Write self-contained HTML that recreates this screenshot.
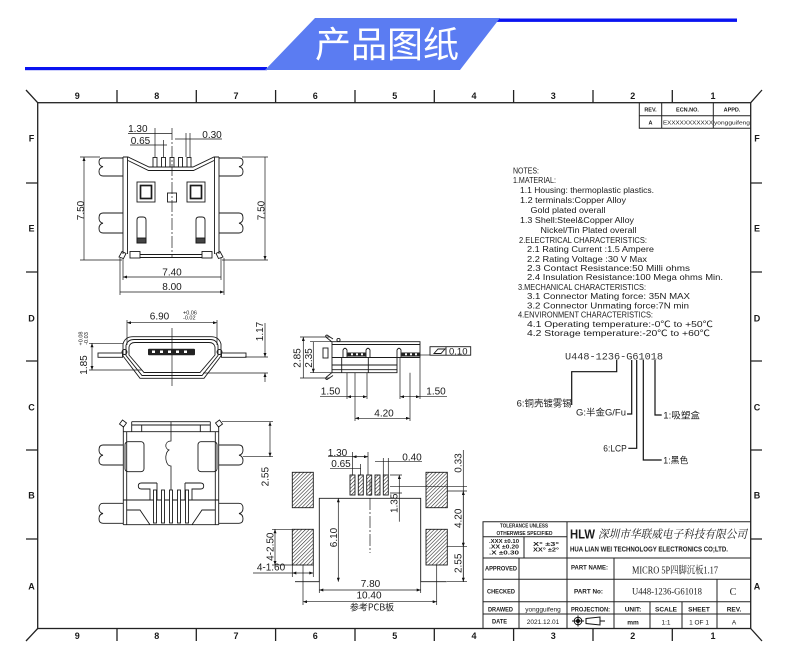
<!DOCTYPE html>
<html><head><meta charset="utf-8"><style>
html,body{margin:0;padding:0;background:#fff;}
svg{display:block;}
text{font-family:"Liberation Sans","Noto Sans CJK SC",sans-serif;fill:#1a1a1a;}
.n{font-family:"Liberation Sans Narrow","Liberation Sans",sans-serif;font-weight:bold;}
.s{font-family:"Liberation Serif","Noto Serif CJK SC",serif;}
</style></head><body>
<svg width="790" height="663" viewBox="0 0 790 663" xmlns="http://www.w3.org/2000/svg">
<defs>
<marker id="a" viewBox="0 0 8 6" refX="8" refY="3" markerWidth="5" markerHeight="3" orient="auto-start-reverse" markerUnits="userSpaceOnUse"><path d="M0,0 L8,3 L0,6z" fill="#111"/></marker>
<pattern id="h" width="2.6" height="2.6" patternUnits="userSpaceOnUse" patternTransform="rotate(45)"><rect width="2.6" height="2.6" fill="#fff"/><line x1="0" y1="0" x2="0" y2="2.6" stroke="#222" stroke-width="1.1"/></pattern>
</defs>
<rect x="0" y="0" width="790" height="663" fill="#fff"/>

<!-- Header -->
<rect x="25" y="67" width="242" height="3.2" fill="#0a14f0"/>
<rect x="490" y="18.5" width="247" height="3.4" fill="#0a14f0"/>
<polygon points="315,18 500,18 460,70 265,70" fill="#5b7cf2"/>
<text x="387" y="57" font-size="36" text-anchor="middle" style="fill:#fff;font-family:'Noto Sans CJK SC',sans-serif">产品图纸</text>

<!-- Frame -->
<g stroke="#222" stroke-width="1.3" fill="none">
<rect x="37.7" y="102.7" width="713" height="525.8"/>
<path d="M26,90L37.7,102.7M762,90L750.7,102.7M26,641L37.7,628.5M762,641L750.7,628.5"/>
<path d="M117,90V102.7M196.3,90V102.7M275.6,90V102.7M355,90V102.7M434.3,90V102.7M513.6,90V102.7M593,90V102.7M672.3,90V102.7"/>
<path d="M117,628.5V641M196.3,628.5V641M275.6,628.5V641M355,628.5V641M434.3,628.5V641M513.6,628.5V641M593,628.5V641M672.3,628.5V641"/>
<path d="M26,183H37.7M26,272H37.7M26,361H37.7M26,450H37.7M26,539H37.7"/>
<path d="M750.7,183H762M750.7,272H762M750.7,361H762M750.7,450H762M750.7,539H762"/>
</g>
<g class="n" font-size="9" text-anchor="middle">
<text x="77.3" y="99">9</text><text x="156.7" y="99">8</text><text x="236" y="99">7</text><text x="315.3" y="99">6</text><text x="394.7" y="99">5</text><text x="474" y="99">4</text><text x="553.3" y="99">3</text><text x="632.7" y="99">2</text><text x="713" y="99">1</text>
<text x="77.3" y="639">9</text><text x="156.7" y="639">8</text><text x="236" y="639">7</text><text x="315.3" y="639">6</text><text x="394.7" y="639">5</text><text x="474" y="639">4</text><text x="553.3" y="639">3</text><text x="632.7" y="639">2</text><text x="713" y="639">1</text>
<text x="31.5" y="141.5">F</text><text x="31.5" y="231.5">E</text><text x="31.5" y="321.5">D</text><text x="31.5" y="410.5">C</text><text x="31.5" y="498.5">B</text><text x="31.5" y="589.5">A</text>
<text x="757" y="141.5">F</text><text x="757" y="231.5">E</text><text x="757" y="321.5">D</text><text x="757" y="410.5">C</text><text x="757" y="498.5">B</text><text x="757" y="589.5">A</text>
</g>

<!-- REV table -->
<g stroke="#222" stroke-width="1" fill="none">
<path d="M639.3,102.7V128.3H750.7M639.3,115.7H750.7M661.7,102.7V128.3M713.3,102.7V128.3"/>
</g>
<g class="n" font-size="5.5" text-anchor="middle">
<text x="650.5" y="111.5">REV.</text><text x="687.5" y="111.5">ECN.NO.</text><text x="732" y="111.5">APPD.</text>
<text x="650.5" y="124.5">A</text>
</g>
<text x="663" y="124.5" font-size="5.5" textLength="50" lengthAdjust="spacingAndGlyphs">EXXXXXXXXXXX</text>
<text x="714" y="124.5" font-size="5.5" textLength="36" lengthAdjust="spacingAndGlyphs">yongguifeng</text>

<!-- ===== TOP VIEW ===== -->
<g fill="none" stroke="#1a1a1a" stroke-width="0.9">
 <g id="tvh">
  <path d="M123,157V254M127.5,157V254"/>
  <path d="M123,157H128L149,167H172"/>
  <path d="M128,160.5L148.5,170.5H172"/>
  <path d="M123,158H103Q99,158 99,162Q99,166 103,166.7Q99,167.5 99,171.5Q99,176 103,176H123"/>
  <path d="M123,213H103Q99,213 99,218Q99,222.5 103,223.2Q99,224 99,228.5Q99,233 103,233H123"/>
  <rect x="137" y="182" width="18" height="20"/>
  <rect x="140.5" y="185.5" width="11" height="13" stroke-width="1.7"/>
  <path d="M137,243V220Q137,217 140,217H143Q146,217 146,220V243Z"/>
  <rect x="137" y="238" width="9" height="5" fill="#444"/>
  <path d="M119,257L122,251.5L126,253.5L123.5,258.5Z"/>
  <rect x="130" y="251.5" width="10" height="6.5"/>
  <path d="M140,254.5H172M140,257.5H172"/>
 </g>
 <use href="#tvh" transform="translate(342,0) scale(-1,1)"/>
 <g fill="#fff">
  <rect x="153" y="157.5" width="4" height="9.5"/><rect x="161.5" y="157.5" width="4" height="9.5"/><rect x="170" y="157.5" width="4" height="9.5"/><rect x="178.5" y="157.5" width="4" height="9.5"/><rect x="187" y="157.5" width="4" height="9.5"/>
 </g>
 <rect x="167.5" y="193" width="9" height="9"/>
 <path d="M172,128V258" stroke-dasharray="12,2,2,2" stroke-width="0.7"/>
 <!-- dims -->
 <g stroke-width="0.7">
  <path d="M155,128V157M163.5,140V157M186,133V157M190,133V157"/>
  <path d="M128,133.5H172M130,145H167M175,139H222"/>
  <path d="M80,157H100M80,260H122M242,157H268M222,260H268"/>
  <path d="M84,157V260M265,157V260" marker-start="url(#a)" marker-end="url(#a)"/>
  <path d="M123,258V280M221,258V280M120,258V295M224,258V295"/>
  <path d="M123,277H221M120,292H224" marker-start="url(#a)" marker-end="url(#a)"/>
 </g>
</g>
<g font-size="10" text-anchor="middle">
 <text x="137.8" y="132">1.30</text>
 <text x="140.5" y="143.8">0.65</text>
 <text x="212" y="137.8">0.30</text>
 <text x="80.5" y="214" transform="rotate(-90 80.5 210.5)">7.50</text>
 <text x="261" y="214" transform="rotate(-90 261 210.5)">7.50</text>
 <text x="172" y="275.3">7.40</text>
 <text x="172" y="290">8.00</text>
</g>

<!-- ===== FRONT VIEW ===== -->
<g fill="none" stroke="#1a1a1a" stroke-width="0.9">
 <g id="fvh">
  <path d="M172,336.7H133Q125,336.7 123,344V356L140,378.3H172"/>
  <path d="M172,339.5H134Q127.5,339.5 126,345.5V355.5L142,375.5H172"/>
  <path d="M172,342.5H135Q130,342.5 129,347V355L144,372.5H172"/>
  <rect x="98" y="353" width="24.5" height="4.3"/>
  <circle cx="124.5" cy="352" r="2.5"/>
 </g>
 <use href="#fvh" transform="translate(344,0) scale(-1,1)"/>
 <path d="M172,328V386" stroke-width="0.7"/>
 <g stroke-width="0.7">
  <path d="M127,320V345M217,320V345"/>
  <path d="M127,322.7H217" marker-start="url(#a)" marker-end="url(#a)"/>
  <path d="M89,343.3H123M89,370H142"/>
  <path d="M92,343.3V370" marker-start="url(#a)" marker-end="url(#a)"/>
  <path d="M245,357H268M203,373H268"/>
  <path d="M265,323V357" marker-end="url(#a)"/>
  <path d="M265,373V382" marker-start="url(#a)"/>
 </g>
</g>
<rect x="148" y="348.7" width="47" height="6.5" rx="1" fill="#222"/>
<g fill="#fff"><rect x="152" y="350.5" width="3" height="2.5"/><rect x="160" y="350.5" width="3" height="2.5"/><rect x="168" y="350.5" width="3" height="2.5"/><rect x="176" y="350.5" width="3" height="2.5"/><rect x="184" y="350.5" width="3" height="2.5"/></g>
<g font-size="10" text-anchor="middle">
 <text x="159.5" y="319.5">6.90</text>
 <text x="83.5" y="368.6" transform="rotate(-90 83.5 365)">1.85</text>
 <text x="259.5" y="335" transform="rotate(-90 259.5 331.5)">1.17</text>
</g>
<g font-size="5.5">
 <text x="183" y="314.5">+0.06</text><text x="183" y="319.5">-0.02</text>
 <text x="81" y="340" text-anchor="middle" transform="rotate(-90 81 338.5)">+0.08</text>
 <text x="86.5" y="340" text-anchor="middle" transform="rotate(-90 86.5 338.5)">-0.03</text>
</g>

<!-- ===== SIDE VIEW ===== -->
<g fill="none" stroke="#1a1a1a" stroke-width="0.9">
 <path d="M332,341.7H420V357.5M332,344.5H420M332,341.7V372.7H397V357.5M332,357.5H420M332,365H397M332,369.7H397"/>
 <path d="M341.7,357.5V372.7M368.3,357.5V372.7"/>
 <path d="M332,342L326.5,337.5Q324.5,335.5 327,335L333,339"/>
 <path d="M332,372.5L326.5,377Q324.5,379 327,379.5L333,375.5"/>
 <rect x="323" y="348" width="5" height="10"/>
 <path d="M343,357.5V350Q345,346.5 347,350V357.5M366,357.5V350Q368,346.5 370,350V357.5M397,357.5V350Q399,346.5 401,350V357.5"/>
 <circle cx="338.5" cy="340" r="1.6"/>
 <g stroke-width="0.7">
  <path d="M300,337H330M300,378H330M310,341.7H332M310,372.7H332"/>
  <path d="M303.3,337V378M313.3,341.7V372.7" marker-start="url(#a)" marker-end="url(#a)"/>
  <path d="M347,372.7V399M367,372.7V399M400,357.5V399M420,357.5V399M355,372.7V421M410,372.7V421"/>
  <path d="M320,396.7H347"/><path d="M347,396.7H367" marker-start="url(#a)" marker-end="url(#a)"/>
  <path d="M420,396.7H447"/><path d="M400,396.7H420" marker-start="url(#a)" marker-end="url(#a)"/>
  <path d="M355,418.3H410" marker-start="url(#a)" marker-end="url(#a)"/>
  <path d="M420,355H430"/>
 </g>
 <rect x="430" y="346.7" width="40.7" height="8.5"/>
 <path d="M446,346.7V355.2"/>
 <path d="M434,353.5L438,349H445L441,353.5Z"/>
</g>
<g fill="#222"><rect x="347.5" y="352.5" width="18" height="4"/><rect x="401.5" y="352.5" width="18.5" height="4"/></g>
<g fill="#fff"><rect x="351" y="353.3" width="2" height="2"/><rect x="356" y="353.3" width="2" height="2"/><rect x="361" y="353.3" width="2" height="2"/><rect x="405" y="353.3" width="2" height="2"/><rect x="410" y="353.3" width="2" height="2"/><rect x="415" y="353.3" width="2" height="2"/></g>
<g font-size="10" text-anchor="middle">
 <text x="297" y="361.6" transform="rotate(-90 297 358)">2.85</text>
 <text x="308.6" y="361.6" transform="rotate(-90 308.6 358)">2.35</text>
 <text x="330.5" y="394.5">1.50</text>
 <text x="436" y="394.5">1.50</text>
 <text x="384" y="416.3">4.20</text>
</g>
<text x="449" y="354.5" font-size="9.5">0.10</text>

<!-- ===== BOTTOM VIEW ===== -->
<g fill="none" stroke="#1a1a1a" stroke-width="0.9">
 <g id="bvh">
  <path d="M123.3,426V524.7M126.7,431.7V524.7"/>
  <path d="M131.7,421.7H171M131.7,425H171M131.7,421.7V431.7M141.7,425V431.7M123.3,431.7H171"/>
  <path d="M119.5,424L122.5,420L126.5,423L123.5,427Z"/>
  <path d="M123,445H103Q99,445 99,450Q99,454.5 103,455.2Q99,456 99,460.5Q99,465 103,465H123"/>
  <path d="M123,503.3H103Q99,503.3 99,508.3Q99,512.8 103,513.5Q99,514.3 99,518.8Q99,523.3 103,523.3H123"/>
  <rect x="125" y="441.7" width="19" height="30" rx="3"/>
  <path d="M157,483H141.5Q138.3,483 138.3,486Q138.3,489 141.5,489H150V500M157,483V500"/>
  <path d="M123.3,500H171M126.7,510H140L150,524.7M123.3,524.7H171"/>
 </g>
 <use href="#bvh" transform="translate(342,0) scale(-1,1)"/>
 <path d="M171,422V441C165,441 164,448 169,450C164,453 165,466 171,466V500" stroke-width="0.8"/>
 <g fill="#fff">
  <rect x="153.5" y="490" width="3" height="33"/><rect x="161.5" y="490" width="3" height="33"/><rect x="169.5" y="490" width="3" height="33"/><rect x="177.5" y="490" width="3" height="33"/><rect x="185.5" y="490" width="3" height="33"/>
 </g>
 <g stroke-width="0.7">
  <path d="M222,421.7H273M243,456.7H273"/>
  <path d="M270,421.7V456.7" marker-start="url(#a)" marker-end="url(#a)"/>
 </g>
</g>
<text x="265" y="480.3" font-size="10" text-anchor="middle" transform="rotate(-90 265 476.7)">2.55</text>

<!-- ===== PCB ===== -->
<g stroke="#1a1a1a" stroke-width="0.9">
 <rect x="292.3" y="472.3" width="21" height="35.4" fill="url(#h)"/>
 <rect x="292.3" y="529.3" width="21" height="35.7" fill="url(#h)"/>
 <rect x="426" y="472.3" width="21.3" height="35.4" fill="url(#h)"/>
 <rect x="426" y="529.3" width="21.3" height="35.7" fill="url(#h)"/>
 <rect x="350" y="475" width="5" height="20" fill="url(#h)"/>
 <rect x="358.3" y="475" width="5" height="20" fill="url(#h)"/>
 <rect x="366.7" y="475" width="5" height="20" fill="url(#h)"/>
 <rect x="375" y="475" width="5" height="20" fill="url(#h)"/>
 <rect x="383.3" y="475" width="5" height="20" fill="url(#h)"/>
</g>
<g fill="none" stroke="#1a1a1a" stroke-width="0.9">
 <path d="M295,581.7H319.3V498.3H420.7V581.7H446.7"/>
 <path d="M370,480V553" stroke-dasharray="12,2,2,2" stroke-width="0.7"/>
 <g stroke-width="0.7">
  <path d="M352.5,452V475M360.5,464V475M368,452V475M383.3,458V475M388.3,458V475"/>
  <path d="M328,456.7H368"/><path d="M352.5,456.7H368" marker-start="url(#a)" marker-end="url(#a)"/>
  <path d="M330,468.3H361"/>
  <path d="M375,461.7H422"/>
  <path d="M390,475H402M390,493H402"/>
  <path d="M399.3,475V521.7" marker-start="url(#a)"/>
  <path d="M338.3,498.3V581.7" marker-start="url(#a)" marker-end="url(#a)"/>
  <path d="M390,486.7H467M447,491H467M447,546.7H467M447,581.7H467"/>
  <path d="M463.3,450V581.7"/>
  <path d="M463.3,491V546.7" marker-start="url(#a)" marker-end="url(#a)"/>
  <path d="M463.3,546.7V581.7" marker-end="url(#a)"/>
  <path d="M272,529.3H292M272,565H292"/>
  <path d="M275,529.3V565" marker-start="url(#a)" marker-end="url(#a)"/>
  <path d="M253,573H292.3"/><path d="M292.3,565V577M313.3,565V577"/>
  <path d="M292.3,573H313.3" marker-start="url(#a)" marker-end="url(#a)"/>
  <path d="M319.3,581.7V593M420.7,581.7V593"/>
  <path d="M319.3,590H420.7" marker-start="url(#a)" marker-end="url(#a)"/>
  <path d="M303,565V605M436.7,565V605"/>
  <path d="M303,601.7H436.7" marker-start="url(#a)" marker-end="url(#a)"/>
 </g>
</g>
<g font-size="10" text-anchor="middle">
 <text x="337.5" y="455.8">1.30</text>
 <text x="341" y="467">0.65</text>
 <text x="412" y="460.3">0.40</text>
 <text x="394" y="506.9" transform="rotate(-90 394 503.3)">1.35</text>
 <text x="333.3" y="541.1" transform="rotate(-90 333.3 537.5)">6.10</text>
 <text x="458" y="466.6" transform="rotate(-90 458 463)">0.33</text>
 <text x="458" y="521.9" transform="rotate(-90 458 518.3)">4.20</text>
 <text x="458" y="566.9" transform="rotate(-90 458 563.3)">2.55</text>
 <text x="270" y="550.3" transform="rotate(-90 270 546.7)">4-2.50</text>
 <text x="271" y="570.5">4-1.60</text>
 <text x="370.5" y="587">7.80</text>
 <text x="369" y="598.5">10.40</text>
</g>
<text x="372" y="610.5" font-size="9" text-anchor="middle" style="font-family:'Noto Sans CJK SC',sans-serif">参考PCB板</text>

<!-- ===== NOTES ===== -->
<g font-size="8.6">
 <text x="513" y="173.5" textLength="26" lengthAdjust="spacingAndGlyphs">NOTES:</text>
 <text x="513" y="182.8" textLength="43" lengthAdjust="spacingAndGlyphs">1.MATERIAL:</text>
 <text x="520" y="192.8" textLength="134" lengthAdjust="spacingAndGlyphs">1.1 Housing: thermoplastic plastics.</text>
 <text x="520" y="202.8" textLength="106" lengthAdjust="spacingAndGlyphs">1.2 terminals:Copper Alloy</text>
 <text x="530.5" y="212.8" textLength="75" lengthAdjust="spacingAndGlyphs">Gold plated overall</text>
 <text x="520" y="222.8" textLength="114" lengthAdjust="spacingAndGlyphs">1.3 Shell:Steel&amp;Copper Alloy</text>
 <text x="540.5" y="232.8" textLength="96" lengthAdjust="spacingAndGlyphs">Nickel/Tin Plated overall</text>
 <text x="519" y="242.8" textLength="128" lengthAdjust="spacingAndGlyphs">2.ELECTRICAL CHARACTERISTICS:</text>
 <text x="527" y="251.8" textLength="127" lengthAdjust="spacingAndGlyphs">2.1 Rating Current :1.5 Ampere</text>
 <text x="527" y="261.8" textLength="120" lengthAdjust="spacingAndGlyphs">2.2 Rating Voltage :30 V Max</text>
 <text x="527" y="270.8" textLength="163" lengthAdjust="spacingAndGlyphs">2.3 Contact Resistance:50 Milli ohms</text>
 <text x="527" y="280.2" textLength="196" lengthAdjust="spacingAndGlyphs">2.4 Insulation Resistance:100 Mega ohms Min.</text>
 <text x="518" y="290.2" textLength="128" lengthAdjust="spacingAndGlyphs">3.MECHANICAL CHARACTERISTICS:</text>
 <text x="527" y="299.2" textLength="163" lengthAdjust="spacingAndGlyphs">3.1 Connector Mating force: 35N MAX</text>
 <text x="527" y="308.5" textLength="162" lengthAdjust="spacingAndGlyphs">3.2 Connector Unmating force:7N min</text>
 <text x="518" y="317.5" textLength="135" lengthAdjust="spacingAndGlyphs">4.ENVIRONMENT CHARACTERISTICS:</text>
 <text x="527" y="326.8" textLength="186" lengthAdjust="spacingAndGlyphs">4.1 Operating temperature:-0℃ to +50℃</text>
 <text x="527" y="336" textLength="183" lengthAdjust="spacingAndGlyphs">4.2 Storage temperature:-20℃ to +60℃</text>
</g>

<!-- ===== PART NUMBER ===== -->
<text x="565" y="359.5" font-size="10" textLength="98" lengthAdjust="spacingAndGlyphs" style="fill:#333;font-family:'Liberation Mono',monospace">U448-1236-G61018</text>
<g fill="none" stroke="#111" stroke-width="1.2">
 <path d="M616.7,360V371.7H571.7V405"/>
 <path d="M631.7,360V414H627"/>
 <path d="M636.7,360V448.3H628.3"/>
 <path d="M643.3,360V460H661.7"/>
 <path d="M655,360V415H661.7"/>
</g>
<g class="s" font-size="9">
 <text x="516.7" y="406.5" textLength="55" lengthAdjust="spacingAndGlyphs">6:铜壳镀雾锡</text>
 <text x="576" y="415.5" textLength="50" lengthAdjust="spacingAndGlyphs">G:半金G/Fu</text>
 <text x="603.3" y="451.7" textLength="23.4" lengthAdjust="spacingAndGlyphs">6:LCP</text>
 <text x="663.3" y="463.5" textLength="25" lengthAdjust="spacingAndGlyphs">1:黑色</text>
 <text x="663.3" y="418.5" textLength="36.7" lengthAdjust="spacingAndGlyphs">1:吸塑盒</text>
</g>

<!-- ===== TITLE BLOCK ===== -->
<g fill="none" stroke="#222" stroke-width="1">
 <path d="M483,628.5V521.7H750.7"/>
 <path d="M483,536.7H567M524,536.7V558M483,558H750.7M567,521.7V628.5M519,558V628.5"/>
 <path d="M483,579.3H750.7M483,601.7H750.7M483,614H750.7M614,558V628.5M717,579.3V628.5M650,601.7V628.5M682,601.7V628.5"/>
</g>
<g class="n">
 <text x="500" y="527.5" font-size="5.5" textLength="48" lengthAdjust="spacingAndGlyphs">TOLERANCE UNLESS</text>
 <text x="496.5" y="535" font-size="5.5" textLength="56" lengthAdjust="spacingAndGlyphs">OTHERWISE SPECIFIED</text>
 <text x="489" y="543" font-size="5" textLength="30" lengthAdjust="spacingAndGlyphs">.XXX ±0.10</text>
 <text x="489" y="548.5" font-size="5" textLength="30" lengthAdjust="spacingAndGlyphs">.XX  ±0.20</text>
 <text x="489" y="554.5" font-size="5" textLength="30" lengthAdjust="spacingAndGlyphs">.X   ±0.30</text>
 <text x="533" y="546" font-size="5" textLength="26" lengthAdjust="spacingAndGlyphs">X°   ±3°</text>
 <text x="533" y="551.5" font-size="5" textLength="26" lengthAdjust="spacingAndGlyphs">XX°  ±2°</text>
 <text x="485" y="570.5" font-size="6.5" textLength="32" lengthAdjust="spacingAndGlyphs">APPROVED</text>
 <text x="487" y="593.5" font-size="6.5" textLength="28" lengthAdjust="spacingAndGlyphs">CHECKED</text>
 <text x="488" y="611.3" font-size="6.5" textLength="25" lengthAdjust="spacingAndGlyphs">DRAWED</text>
 <text x="492" y="623.5" font-size="6.5" textLength="15" lengthAdjust="spacingAndGlyphs">DATE</text>
 <text x="571" y="569.5" font-size="6.5" textLength="37" lengthAdjust="spacingAndGlyphs">PART NAME:</text>
 <text x="574" y="593.5" font-size="6.5" textLength="29" lengthAdjust="spacingAndGlyphs">PART No:</text>
 <text x="571" y="611.3" font-size="6.5" textLength="39" lengthAdjust="spacingAndGlyphs">PROJECTION:</text>
 <text x="633" y="611.3" font-size="6.5" text-anchor="middle">UNIT:</text>
 <text x="666" y="611.3" font-size="6.5" text-anchor="middle">SCALE</text>
 <text x="699" y="611.3" font-size="6.5" text-anchor="middle">SHEET</text>
 <text x="734" y="611.3" font-size="6.5" text-anchor="middle">REV.</text>
 <text x="570" y="538.3" font-size="13" textLength="25" lengthAdjust="spacingAndGlyphs">HLW</text>
 <text x="570" y="551.5" font-size="7.5" textLength="158" lengthAdjust="spacingAndGlyphs">HUA LIAN WEI TECHNOLOGY ELECTRONICS CO;LTD.</text>
</g>
<text x="598" y="538" font-size="11.5" textLength="149" lengthAdjust="spacingAndGlyphs" font-style="italic" style="font-family:'Noto Serif CJK SC',serif">深圳市华联威电子科技有限公司</text>
<g font-size="6.5" text-anchor="middle">
 <text x="543" y="611.3">yongguifeng</text>
 <text x="543" y="624">2021.12.01</text>
 <text x="633" y="624.5" font-weight="bold">mm</text>
 <text x="666" y="624.5">1:1</text>
 <text x="699" y="624.5">1 OF 1</text>
 <text x="734" y="624.5">A</text>
</g>
<text x="632" y="573.5" font-size="10" class="s" textLength="86" lengthAdjust="spacingAndGlyphs">MICRO 5P四脚沉板1.17</text>
<text x="632" y="594.5" font-size="9.5" class="s" textLength="70" lengthAdjust="spacingAndGlyphs">U448-1236-G61018</text>
<text x="733" y="595" font-size="10" class="s" text-anchor="middle">C</text>
<g fill="none" stroke="#111" stroke-width="1">
 <circle cx="578" cy="621" r="3.8"/><circle cx="578" cy="621" r="1.6" fill="#111"/>
 <path d="M572,621H584M578,615.5V626.5"/>
 <path d="M586,618.5L600,617V625L586,623.5Z"/>
 <path d="M600,621H605"/>
</g>
</svg>
</body></html>
